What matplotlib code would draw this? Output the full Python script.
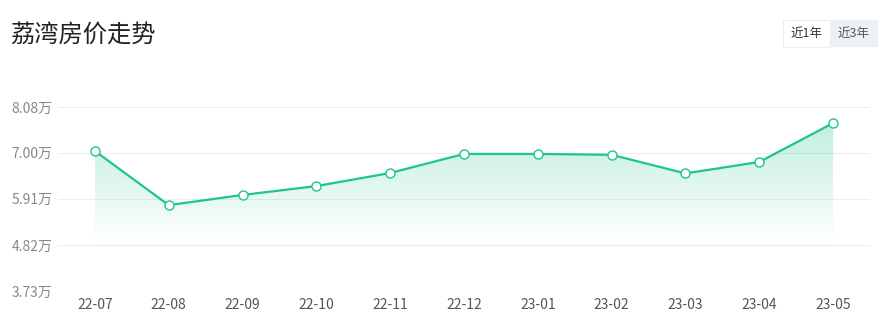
import matplotlib
matplotlib.use("Agg")
import matplotlib.pyplot as plt
import numpy as np
from matplotlib.patches import Polygon, Rectangle

plt.rcParams['font.family'] = ['Noto Sans CJK SC', 'DejaVu Sans']

months = ['22-07', '22-08', '22-09', '22-10', '22-11', '22-12', '23-01', '23-02', '23-03', '23-04', '23-05']
prices = [7.04, 5.76, 6.00, 6.21, 6.52, 6.97, 6.97, 6.95, 6.51, 6.78, 7.70]
yticks = [3.73, 4.82, 5.91, 7.00, 8.08]
ytick_labels = ['3.73万', '4.82万', '5.91万', '7.00万', '8.08万']

W, H = 884, 334
fig = plt.figure(figsize=(W / 100, H / 100), dpi=100)
L, R, T, B = 58, 870, 107, 291
ax = fig.add_axes([L / W, 1 - B / H, (R - L) / W, (B - T) / H])

color = '#1ec58c'
x = np.arange(len(months))
ax.set_xlim(-0.5, len(months) - 0.5)
ax.set_ylim(yticks[0], yticks[-1])

# gradient fill
fill_bottom = 4.85
grad = np.linspace(0, 1, 256).reshape(-1, 1)
cmap_rgba = np.zeros((256, 1, 4))
c = matplotlib.colors.to_rgb(color)
cmap_rgba[..., 0] = c[0]
cmap_rgba[..., 1] = c[1]
cmap_rgba[..., 2] = c[2]
cmap_rgba[..., 3] = grad * 0.28
ytop = max(prices)
im = ax.imshow(cmap_rgba, extent=[x[0], x[-1], fill_bottom, ytop], origin='lower',
               aspect='auto', zorder=1, interpolation='bilinear')
verts = [(x[0], fill_bottom)] + list(zip(x, prices)) + [(x[-1], fill_bottom)]
poly = Polygon(verts, closed=True, facecolor='none', edgecolor='none')
ax.add_patch(poly)
im.set_clip_path(poly)

ax.plot(x, prices, color=color, lw=1.6, zorder=3, marker='o', markersize=6.5,
        markerfacecolor='white', markeredgecolor=color, markeredgewidth=1.0)

ax.set_yticks(yticks)
ax.set_yticklabels(ytick_labels)
ax.set_xticks(x)
ax.set_xticklabels(months)
for s in ax.spines.values():
    s.set_visible(False)
ax.grid(axis='y', color='#eeeeee', lw=0.8, zorder=0)
ax.tick_params(axis='both', length=0, colors='#666666', labelsize=10)
ax.tick_params(axis='y', pad=4, labelcolor='#888888')
ax.tick_params(axis='x', pad=5, labelcolor='#555555')
ax.set_axisbelow(True)

fig.text(10 / W, 1 - 35 / H, '荔湾房价走势', fontsize=17.5, color='#222222', va='center', ha='left')

# buttons
bx0, bx1, bx2, by0, by1 = 783, 830, 878, 20, 47
fig.patches.append(Rectangle((bx1 / W, 1 - by1 / H), (bx2 - bx1) / W, (by1 - by0) / H,
                             transform=fig.transFigure, facecolor='#eef1f4', edgecolor='none'))
fig.patches.append(Rectangle((bx0 / W, 1 - by1 / H), (bx1 - bx0) / W, (by1 - by0) / H,
                             transform=fig.transFigure, facecolor='white', edgecolor='#eeeeee', lw=0.8))
fig.text((bx0 + bx1) / 2 / W, 1 - (by0 + by1) / 2 / H, '近1年', fontsize=9, color='#333333', ha='center', va='center')
fig.text((bx1 + bx2) / 2 / W, 1 - (by0 + by1) / 2 / H, '近3年', fontsize=9, color='#555555', ha='center', va='center')

fig.savefig('out.png', dpi=100)
